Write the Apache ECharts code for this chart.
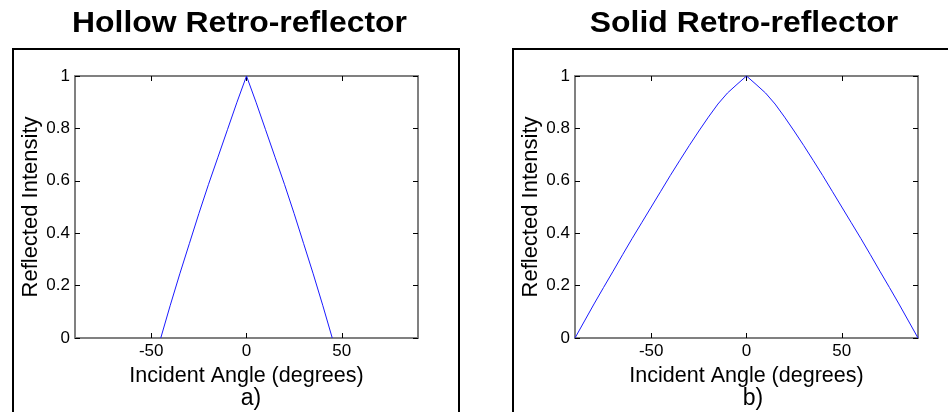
<!DOCTYPE html>
<html>
<head>
<meta charset="utf-8">
<script src="https://cdn.jsdelivr.net/npm/echarts@6/dist/echarts.min.js"></script>
<style>
html,body{margin:0;padding:0;background:#fff;}
#chart{width:948px;height:412px;}
</style>
</head>
<body>
<div id="chart"></div>
<script>
// ---- Data ----
const hollowAngles = [-45,-40,-35,-30,-25,-20,-15,-10,-5,0,5,10,15,20,25,30,35,40,45];
const hollowIntensity = [0,0.125,0.245,0.36,0.475,0.585,0.69,0.795,0.9,1,0.9,0.795,0.69,0.585,0.475,0.36,0.245,0.125,0];
const solidAngles = [-90,-85,-80,-75,-70,-65,-60,-55,-50,-45,-40,-35,-30,-25,-20,-15,-10,-5,0,5,10,15,20,25,30,35,40,45,50,55,60,65,70,75,80,85,90];
const solidIntensity = [0,0.065,0.13,0.193,0.255,0.318,0.38,0.44,0.5,0.56,0.62,0.678,0.735,0.79,0.843,0.893,0.935,0.968,1,0.968,0.935,0.893,0.843,0.79,0.735,0.678,0.62,0.56,0.5,0.44,0.38,0.318,0.255,0.193,0.13,0.065,0];
const xTickValues = [-50,0,50];
const panelTitles = ['Hollow Retro-reflector','Solid Retro-reflector'];
const panelLabels = ['a)','b)'];
const xAxisName = 'Incident Angle (degrees)';
const yAxisName = 'Reflected Intensity';

const FONT = '"Liberation Sans", Arial, sans-serif';
const AXIS_COLOR = '#808080';

const grids = [
  {left:75, top:76, width:343, height:262},
  {left:575, top:76, width:343, height:262}
];

const xAxes = [], yAxes = [], series = [];
const datasets = [[hollowAngles,hollowIntensity],[solidAngles,solidIntensity]];
grids.forEach((g,i)=>{
  xAxes.push({
    type:'value', gridIndex:i, min:-90, max:90, position:'bottom',
    axisLine:{show:true, onZero:false, lineStyle:{color:AXIS_COLOR, width:2}},
    axisTick:{show:true, inside:true, length:5, customValues:xTickValues, lineStyle:{color:'#000', width:1}},
    axisLabel:{show:true, customValues:xTickValues, color:'#000', fontSize:17, fontFamily:FONT, margin:5},
    splitLine:{show:false},
    name:xAxisName, nameLocation:'middle', nameGap:20,
    nameTextStyle:{color:'#000', fontSize:21.5, fontFamily:FONT}
  });
  xAxes.push({
    type:'value', gridIndex:i, min:-90, max:90, position:'top',
    axisLine:{show:true, onZero:false, lineStyle:{color:AXIS_COLOR, width:2}},
    axisTick:{show:true, inside:true, length:5, customValues:xTickValues, lineStyle:{color:'#000', width:1}},
    axisLabel:{show:false}, splitLine:{show:false}
  });
  yAxes.push({
    type:'value', gridIndex:i, min:0, max:1, interval:0.2, position:'left',
    axisLine:{show:true, onZero:false, lineStyle:{color:AXIS_COLOR, width:2}},
    axisTick:{show:true, inside:true, length:5, lineStyle:{color:'#000', width:1}},
    axisLabel:{show:true, color:'#000', fontSize:17, fontFamily:FONT, margin:5,
      formatter:v=>String(Math.round(v*10)/10)},
    splitLine:{show:false},
    name:yAxisName, nameLocation:'middle', nameGap:33, nameRotate:90,
    nameTextStyle:{color:'#000', fontSize:22, fontFamily:FONT}
  });
  yAxes.push({
    type:'value', gridIndex:i, min:0, max:1, interval:0.2, position:'right',
    axisLine:{show:true, onZero:false, lineStyle:{color:AXIS_COLOR, width:2}},
    axisTick:{show:true, inside:true, length:5, lineStyle:{color:'#000', width:1}},
    axisLabel:{show:false}, splitLine:{show:false}
  });
  const [xs,ys] = datasets[i];
  series.push({
    type:'line', xAxisIndex:i*2, yAxisIndex:i*2,
    data: xs.map((x,k)=>[x,ys[k]]),
    showSymbol:false, symbol:'none', smooth:false,
    lineStyle:{color:'#1a1aff', width:1}, animation:false
  });
});

const titleStyle = {font:'bold 29px ' + FONT, fill:'#000', align:'center', verticalAlign:'middle'};
const chart = echarts.init(document.getElementById('chart'), null, {renderer:'canvas'});
chart.setOption({
  animation:false,
  backgroundColor:'#fff',
  grid:grids,
  xAxis:xAxes,
  yAxis:yAxes,
  series:series,
  title:[
    {text:panelLabels[0], left:246, top:382, textAlign:'center', textStyle:{fontSize:23, fontWeight:'normal', fontFamily:FONT, color:'#000'}},
    {text:panelLabels[1], left:748, top:382, textAlign:'center', textStyle:{fontSize:23, fontWeight:'normal', fontFamily:FONT, color:'#000'}}
  ],
  graphic:[
    {type:'rect', shape:{x:13, y:49, width:446, height:420}, style:{fill:'none', stroke:'#000', lineWidth:2}, z:-1},
    {type:'rect', shape:{x:513, y:49, width:480, height:420}, style:{fill:'none', stroke:'#000', lineWidth:2}, z:-1},
    {type:'text', x:239.5, y:24, scaleX:1.1, style:Object.assign({text:panelTitles[0]}, titleStyle)},
    {type:'text', x:744, y:24, scaleX:1.1, style:Object.assign({text:panelTitles[1]}, titleStyle)}
  ]
});
</script>
</body>
</html>
